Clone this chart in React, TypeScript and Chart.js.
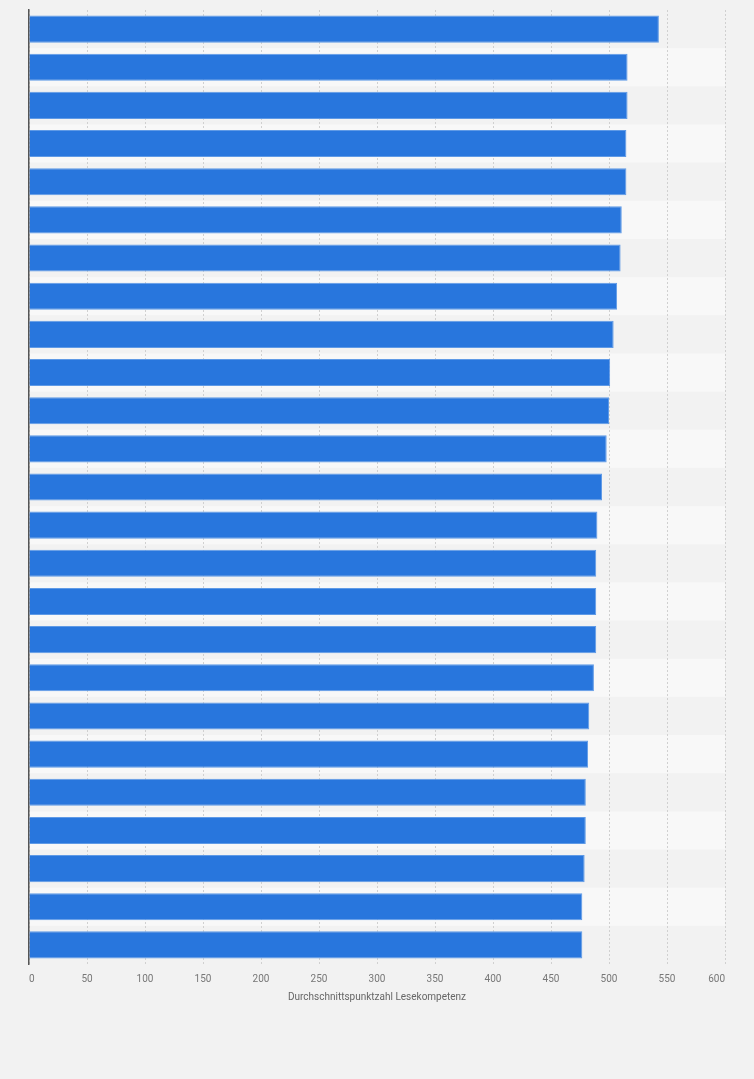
import React, { useEffect, useRef } from 'react';
import { Chart, registerables } from 'chart.js';

Chart.register(...registerables);

// PISA 2022, Lesekompetenz (Durchschnittspunktzahl)
const countries = [
    'Singapur', 'Irland', 'Japan', 'Südkorea', 'Taiwan', 'Estland', 'Macau', 'Kanada',
    'Vereinigte Staaten', 'Neuseeland', 'Hongkong', 'Australien', 'Vereinigtes Königreich',
    'Finnland', 'Dänemark', 'Polen', 'Tschechien', 'Schweden', 'Schweiz', 'Italien',
    'Österreich', 'Deutschland', 'Belgien', 'Portugal', 'Norwegen',
];
const scores = [543, 516, 516, 515, 515, 511, 510, 507, 504, 501, 500, 498, 494, 490, 489, 489, 489, 487, 483, 482, 480, 480, 479, 477, 477];
const xTicks = [0, 50, 100, 150, 200, 250, 300, 350, 400, 450, 500, 550, 600];
const axisTitle = 'Durchschnittspunktzahl Lesekompetenz';

const PAGE_BG = '#f2f2f2';
const BAND_LIGHT = '#f8f8f8';
const FONT = 'Roboto, "Liberation Sans", Arial, sans-serif';

// alternating row stripes behind the bars
const bandsPlugin = {
    id: 'bands',
    beforeDraw(chart: Chart) {
        const { ctx, chartArea, scales } = chart;
        const y = scales.y;
        ctx.save();
        ctx.fillStyle = PAGE_BG;
        ctx.fillRect(0, 0, chart.width, chart.height);
        const step = (chartArea.bottom - chartArea.top) / countries.length;
        countries.forEach((_, i) => {
            if (i % 2 === 1) {
                const center = y.getPixelForValue(i);
                ctx.fillStyle = BAND_LIGHT;
                ctx.fillRect(chartArea.left, center - step / 2, chartArea.right - chartArea.left, step);
            }
        });
        ctx.restore();
    },
};

const ReadingChart: React.FC = () => {
    const canvasRef = useRef<HTMLCanvasElement | null>(null);
    const chartRef = useRef<Chart | null>(null);

    useEffect(() => {
        document.body.style.margin = '0';
        document.body.style.background = PAGE_BG;
        if (!canvasRef.current) return;

        chartRef.current?.destroy();
        chartRef.current = new Chart(canvasRef.current, {
            type: 'bar',
            data: {
                labels: countries,
                datasets: [{
                    label: axisTitle,
                    data: scores,
                    backgroundColor: '#2876dd',
                    borderColor: '#5f9ae6',
                    borderWidth: 1,
                    categoryPercentage: 1,
                    barPercentage: 0.71,
                }],
            },
            options: {
                indexAxis: 'y',
                responsive: true,
                maintainAspectRatio: false,
                animation: false,
                layout: { padding: { left: 29, right: 29, top: 10, bottom: 76 } },
                scales: {
                    x: {
                        min: 0,
                        max: 600,
                        afterBuildTicks: (axis) => { axis.ticks = xTicks.map(v => ({ value: v })); },
                        grid: { color: '#d0d0d0', lineWidth: 1, drawTicks: false },
                        border: { display: false, dash: [2, 2] },
                        ticks: {
                            padding: 9,
                            align: 'inner',
                            color: '#777777',
                            font: { family: FONT, size: 10 },
                        },
                        title: {
                            display: true,
                            text: axisTitle,
                            color: '#666666',
                            padding: { top: -3, bottom: 0 },
                            font: { family: FONT, size: 10 },
                        },
                    },
                    y: {
                        grid: { display: false, drawTicks: false },
                        border: { display: true, color: '#555555', width: 1.5 },
                        ticks: { display: false },
                        afterFit: (axis) => { axis.width = 0; },
                    },
                },
                plugins: {
                    legend: { display: false },
                    tooltip: { enabled: false },
                },
            },
            plugins: [bandsPlugin],
        });

        return () => {
            chartRef.current?.destroy();
            chartRef.current = null;
        };
    }, []);

    return (
        <div style={{ width: 754, height: 1079, position: 'relative', background: PAGE_BG }}>
            <canvas ref={canvasRef}></canvas>
        </div>
    );
};

export default function App() {
    return <ReadingChart />;
}
